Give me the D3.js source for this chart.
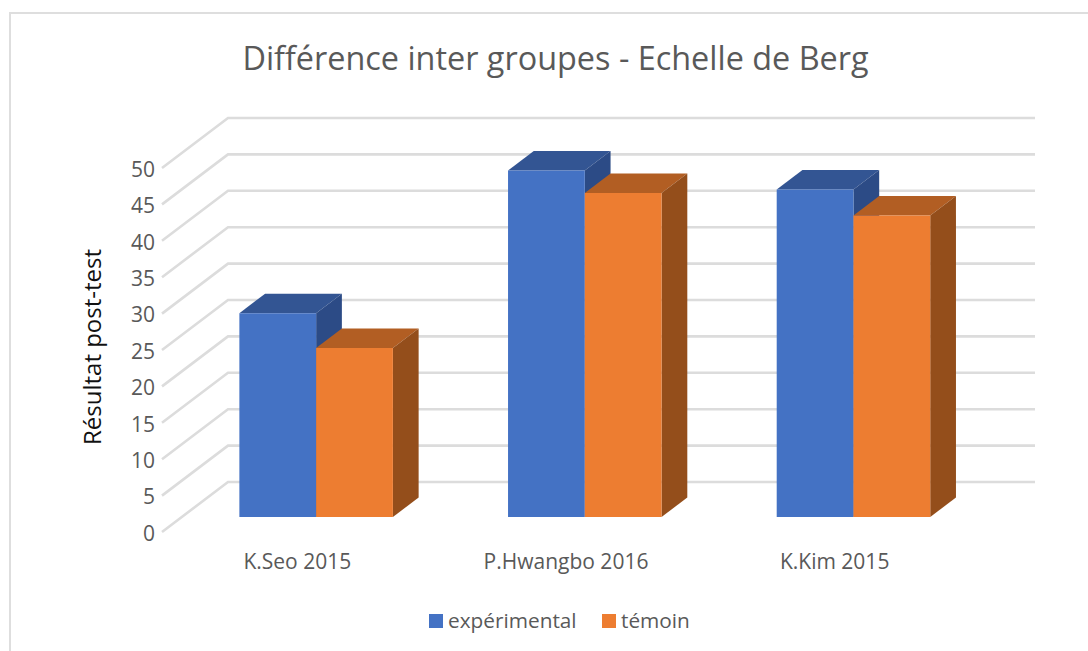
<!DOCTYPE html>
<html>
<head>
<meta charset="utf-8">
<title>Différence inter groupes - Echelle de Berg</title>
<script src="https://cdnjs.cloudflare.com/ajax/libs/d3/7.8.5/d3.min.js"></script>
<style>
  html, body { margin: 0; padding: 0; background: #fff; }
  svg { display: block; font-family: "Open Sans", "Noto Sans", sans-serif; }
</style>
</head>
<body>
<svg id="chart" width="1088" height="651"></svg>
<script>
var categories = ["K.Seo 2015", "P.Hwangbo 2016", "K.Kim 2015"];
var seriesNames = ["expérimental", "témoin"];
var experimental = [28, 47.6, 45];
var temoin = [23.2, 44.5, 41.4];
var yTicks = [0, 5, 10, 15, 20, 25, 30, 35, 40, 45, 50];

var colors = {
  "expérimental": {front: "#4472c4", top: "#335593", side: "#2c4b86"},
  "témoin": {front: "#ed7d31", top: "#b25e23", side: "#944e1b"}
};

var svg = d3.select("#chart");

// frame of the picture, only top and left are visible
svg.append("path")
    .attr("d", "M10,651V13H1088")
    .attr("fill", "none")
    .attr("stroke", "#dedede")
    .attr("stroke-width", 2);

var depthX = 66, depthY = -50;
var barFront = 0.3, barBack = 0.69;

var x = d3.scaleBand().domain(categories).range([162, 968]);
var inner = d3.scaleBand().domain(seriesNames).range([0, x.bandwidth()]).paddingOuter(0.75).paddingInner(0);
var y = d3.scaleLinear().domain([0, 50]).range([532, 168]);

function point(px, py, d) {
  return [px + depthX * d, py + depthY * d];
}

// grid: left wall plus back wall
svg.append("g").selectAll("polyline")
    .data(yTicks)
    .enter().append("polyline")
    .attr("points", function(d) {
      var a = point(x.range()[0], y(d), 0), b = point(x.range()[0], y(d), 1), c = point(x.range()[1] + 1, y(d), 1);
      return [a, b, c].join(" ");
    })
    .attr("fill", "none")
    .attr("stroke", "#dcdcdc")
    .attr("stroke-width", 2.6);

// y axis labels
var yAxis = svg.append("g")
    .attr("transform", "translate(155,1.5)")
    .call(d3.axisLeft(y).tickValues(yTicks).tickSize(0).tickPadding(0));
yAxis.select(".domain").remove();
yAxis.selectAll("text")
    .attr("font-size", 21)
    .attr("font-family", "Open Sans")
    .attr("fill", "#595959");

// bars
var rows = [];
categories.forEach(function(c, i) {
  rows.push({cat: c, name: seriesNames[0], value: experimental[i]});
  rows.push({cat: c, name: seriesNames[1], value: temoin[i]});
});

var bar = svg.append("g").selectAll("g")
    .data(rows)
    .enter().append("g");

function poly(corners) {
  return corners.map(function(c) { return point(c[0], c[1], c[2]); }).join(" ");
}
function x0(d) { return x(d.cat) + inner(d.name); }
function x1(d) { return x0(d) + inner.bandwidth(); }

bar.append("polygon") // top face
    .attr("points", function(d) {
      var t = y(d.value);
      return poly([[x0(d), t, barFront], [x1(d), t, barFront], [x1(d), t, barBack], [x0(d), t, barBack]]);
    })
    .attr("fill", function(d) { return colors[d.name].top; });

bar.append("polygon") // side face
    .attr("points", function(d) {
      var t = y(d.value), b = y(0);
      return poly([[x1(d), t, barFront], [x1(d), t, barBack], [x1(d), b, barBack], [x1(d), b, barFront]]);
    })
    .attr("fill", function(d) { return colors[d.name].side; });

bar.append("polygon") // front face
    .attr("points", function(d) {
      var t = y(d.value), b = y(0);
      return poly([[x0(d), t, barFront], [x1(d), t, barFront], [x1(d), b, barFront], [x0(d), b, barFront]]);
    })
    .attr("fill", function(d) { return colors[d.name].front; });

// category labels
svg.append("g").selectAll("text")
    .data(categories)
    .enter().append("text")
    .attr("x", function(d) { return x(d) + x.bandwidth() / 2 + 1; })
    .attr("y", 569)
    .attr("text-anchor", "middle")
    .attr("font-size", 21)
    .attr("fill", "#595959")
    .text(function(d) { return d; });

// titles
svg.append("text")
    .attr("x", 555.5)
    .attr("y", 70)
    .attr("text-anchor", "middle")
    .attr("font-size", 32.4)
    .attr("fill", "#595959")
    .text("Différence inter groupes - Echelle de Berg");

svg.append("text")
    .attr("transform", "translate(101,347) rotate(-90)")
    .attr("text-anchor", "middle")
    .attr("font-size", 24)
    .attr("fill", "#111")
    .text("Résultat post-test");

// legend
var legendX = [429, 602];
var legend = svg.append("g").selectAll("g")
    .data(seriesNames)
    .enter().append("g")
    .attr("transform", function(d, i) { return "translate(" + legendX[i] + ",614)"; });
legend.append("rect")
    .attr("width", 14)
    .attr("height", 14)
    .attr("fill", function(d) { return colors[d].front; });
legend.append("text")
    .attr("x", 19)
    .attr("y", 13.5)
    .attr("font-size", 20.8)
    .attr("fill", "#595959")
    .text(function(d) { return d; });
</script>
</body>
</html>
